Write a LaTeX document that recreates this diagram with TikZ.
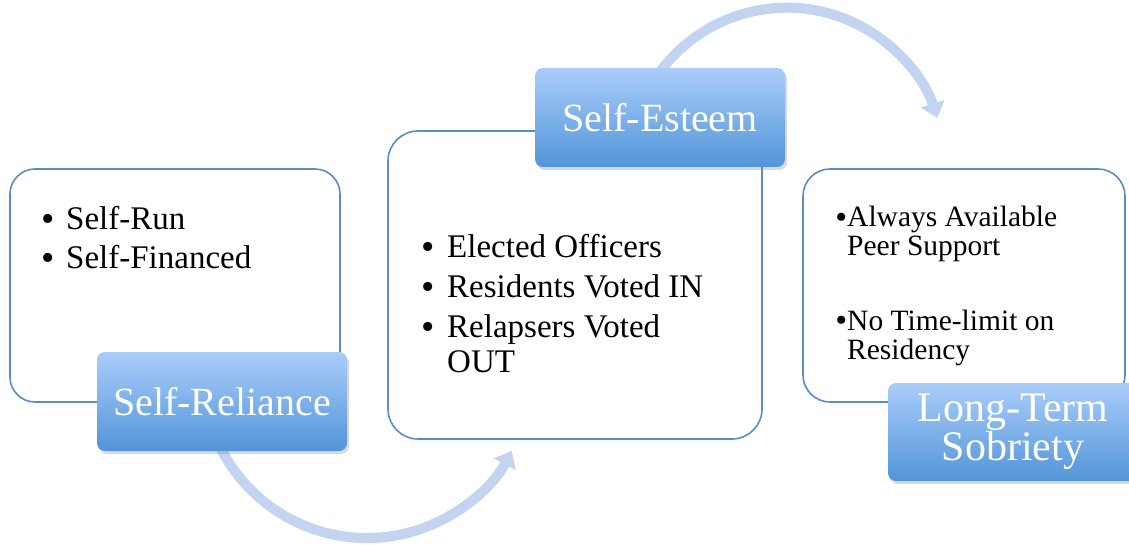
\documentclass[tikz,border=0pt]{standalone}
\usepackage{fontspec}
\setmainfont{Liberation Serif}
\usetikzlibrary{arrows.meta,shadows}
\definecolor{edgeblue}{RGB}{90,141,199}
\definecolor{gtop}{RGB}{170,205,250}
\definecolor{gbot}{RGB}{82,149,216}
\definecolor{arrowc}{RGB}{194,212,240}
\newcommand{\bulA}[1]{\makebox[#1][c]{\smash{\raisebox{-1.6pt}{\scalebox{1.15}{\textbullet}}}}}
\newcommand{\bulB}[1]{\makebox[#1][c]{\smash{\raisebox{-1.4pt}{\scalebox{1.15}{\textbullet}}}}}
\begin{document}
\begin{tikzpicture}[x=1pt,y=1pt,
  panel/.style={draw=edgeblue, line width=1.6pt, fill=white, inner sep=0pt},
  tag/.style={rounded corners=8pt, top color=gtop, bottom color=gbot, draw=none,
    text=white, minimum width=250pt, minimum height=99pt, inner sep=0pt,
    font=\fontsize{40}{44}\selectfont,
    drop shadow={shadow xshift=2pt, shadow yshift=-3pt, opacity=0.3}},
  listbox/.style={anchor=base west, inner sep=0pt},
  flow/.style={line width=10pt, draw=arrowc, -{Triangle[width=24pt,length=15pt]}},
]
\useasboundingbox (0,0) rectangle (1129,544);
\clip (0,0) rectangle (1129,544);

% content panels
\node[panel, rounded corners=25pt, minimum width=330pt, minimum height=233pt] (p1) at (175,258.5) {};
\node[panel, rounded corners=30pt, minimum width=374pt, minimum height=308pt] (p2) at (575,259) {};
\node[panel, rounded corners=27pt, minimum width=322pt, minimum height=233pt] (p3) at (964,258.5) {};

% curved arrows
\coordinate (a1s) at (212.9,113.9);
\coordinate (a2s) at (650.6,457.6);
\draw[flow] (a1s) arc[start angle=200, end angle=332, radius=164];
\draw[flow] (a2s) arc[start angle=150, end angle=17.4, radius=157.4];

% tags
\node[tag] (rel) at (222,142.5) {Self-Reliance};
\node[tag] (est) at (660,426.5) {Self-Esteem};
\node[tag, minimum height=98pt, align=center, font=\fontsize{42}{37}\selectfont] (lts) at (1013,112) {Long-Term\\Sobriety};

% panel 1 text
\node[listbox] (l1) at (30,314) {\fontsize{33}{39}\selectfont
  \begin{tabular}[t]{@{}l@{}}
  \bulA{36pt}Self-Run\\
  \bulA{36pt}Self-Financed
  \end{tabular}};

% panel 2 text
\node[listbox] (l2) at (409,286) {\fontsize{33}{40}\selectfont
  \begin{tabular}[t]{@{}l@{}}
  \bulA{38pt}Elected Officers\\
  \bulA{38pt}Residents Voted IN\\
  \bulA{38pt}Relapsers Voted\\[-5pt]
  \makebox[38pt]{}OUT
  \end{tabular}};

% panel 3 text
\node[listbox] (l3) at (835,317) {\fontsize{29.5}{29}\selectfont
  \begin{tabular}[t]{@{}l@{}}
  \bulB{12pt}Always Available\\
  \makebox[12pt]{}Peer Support\\[45pt]
  \bulB{12pt}No Time-limit on\\
  \makebox[12pt]{}Residency
  \end{tabular}};
\end{tikzpicture}
\end{document}
